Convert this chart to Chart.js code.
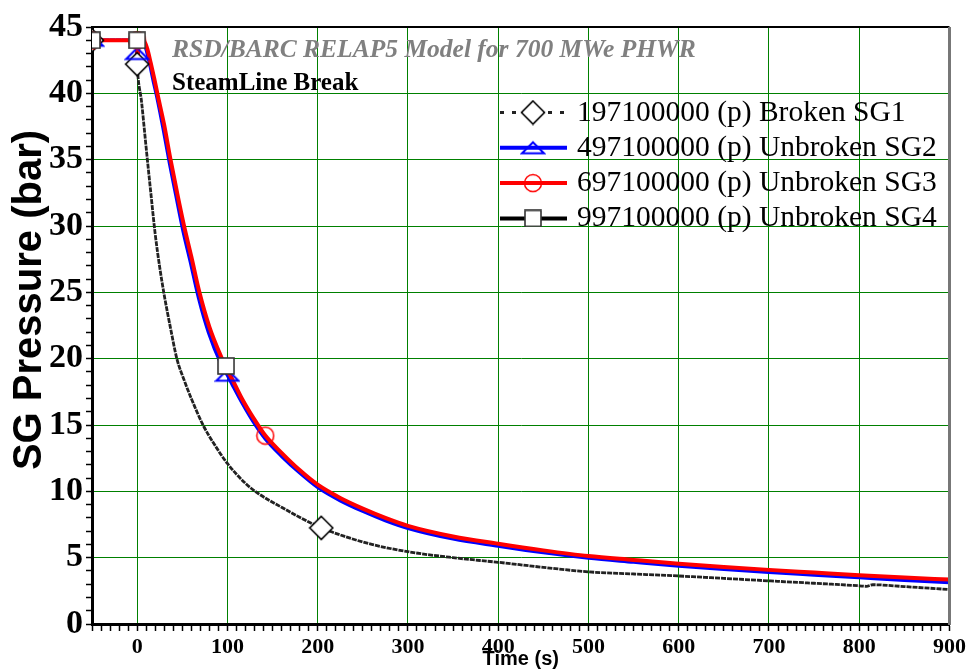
<!DOCTYPE html>
<html lang="en">
<head>
<meta charset="UTF-8">
<title>SG Pressure - SteamLine Break</title>
<script src="https://cdn.jsdelivr.net/npm/chart.js"></script>
<style>
  html, body { margin: 0; padding: 0; background: #fff; }
  #wrap { width: 969px; height: 671px; }
</style>
</head>
<body>
<div id="wrap"><canvas id="sgChart" width="969" height="671"></canvas></div>
<script>
// series: time (s) and SG pressure (bar)
const sg1Time = [-50, -1, 0, 5, 10, 15, 20, 25, 30, 37, 44, 52, 60, 73, 85, 100, 120, 135, 160, 180, 204, 230, 260, 300, 350, 400, 450, 500, 550, 600, 650, 700, 750, 800, 808, 815, 850, 900];
const sg1Pres = [44, 44, 42.2, 39.3, 35.9, 32.6, 29.4, 26.9, 24.8, 22.3, 20.0, 18.4, 17.0, 15.0, 13.6, 12.1, 10.6, 9.8, 8.8, 8.05, 7.25, 6.6, 6.0, 5.45, 5.0, 4.65, 4.27, 3.93, 3.77, 3.62, 3.44, 3.25, 3.07, 2.88, 2.84, 2.96, 2.82, 2.6];

const sg2Time = [-50, -1, 0, 0.8, 2, 6, 10, 14, 18, 22, 29, 36, 43, 51, 59, 68, 79, 93, 100, 105, 116, 130, 142, 160, 180, 200, 225, 250, 275, 300, 350, 400, 450, 500, 550, 600, 650, 700, 750, 800, 850, 900];
const sg2Pres = [44, 44, 43.0, 42.3, 44, 44, 43.3, 42.2, 40.9, 39.7, 37.3, 34.7, 32.3, 29.6, 27.3, 24.6, 22.0, 19.6, 18.75, 18.1, 16.7, 15.1, 13.95, 12.65, 11.4, 10.3, 9.3, 8.5, 7.8, 7.22, 6.42, 5.88, 5.38, 4.97, 4.67, 4.38, 4.12, 3.9, 3.7, 3.5, 3.3, 3.12];

const sg3Time = [-50, -1, 0, 0.5, 1.5, 7, 11, 15, 19, 23, 30, 37, 44, 52, 60, 69, 80, 94, 98.5, 105, 116, 130, 142, 160, 180, 200, 225, 250, 275, 300, 350, 400, 450, 500, 550, 600, 650, 700, 750, 800, 850, 900];
const sg3Pres = [44, 44, 44, 42.3, 44, 44, 43.4, 42.3, 41.1, 39.8, 37.6, 35.0, 32.6, 30.0, 27.7, 25.0, 22.4, 20.0, 19.35, 18.5, 17.0, 15.4, 14.2, 12.9, 11.6, 10.5, 9.5, 8.7, 8.0, 7.4, 6.6, 6.05, 5.55, 5.12, 4.83, 4.55, 4.3, 4.08, 3.88, 3.68, 3.5, 3.35];

const sg4Time = [-50, 0, 7, 11, 15, 19, 23, 30, 37, 44, 52, 60, 69, 80, 94, 98.5, 105, 116, 130, 142, 160, 180, 200, 225, 250, 275, 300, 350, 400, 450, 500, 550, 600, 650, 700, 750, 800, 850, 900];
const sg4Pres = [44, 44, 44, 43.4, 42.3, 41.1, 39.8, 37.6, 35.0, 32.6, 30.0, 27.7, 25.0, 22.4, 20.0, 19.45, 18.5, 17.0, 15.4, 14.2, 12.9, 11.6, 10.5, 9.5, 8.7, 8.0, 7.4, 6.6, 6.05, 5.55, 5.12, 4.83, 4.55, 4.3, 4.08, 3.88, 3.68, 3.5, 3.35];

// times where the plot puts a symbol on each curve
const sg1Marks = [-50, 0, 204];
const sg2Marks = [-50, 0, 100];
const sg3Marks = [-50, 0, 142];
const sg4Marks = [-50, 0, 98.5];

const seriesLabels = [
    '197100000 (p) Broken SG1',
    '497100000 (p) Unbroken SG2',
    '697100000 (p) Unbroken SG3',
    '997100000 (p) Unbroken SG4'
];

const xMin = -50, xMax = 900, xStep = 10, xLabelEvery = 100;
const yMin = 0, yMax = 45, yStep = 1, yLabelEvery = 5;

const GRID_GREEN = 'rgb(0,128,0)';

function toPoints(t, p) {
    return t.map((x, i) => ({ x: x, y: p[i] }));
}

function markerCanvas(kind) {
    const cv = document.createElement('canvas');
    const g = cv.getContext('2d');
    if (kind === 'diamond') {
        cv.width = 26; cv.height = 26;
        g.beginPath();
        g.moveTo(13, 1.5); g.lineTo(24.5, 13); g.lineTo(13, 24.5); g.lineTo(1.5, 13); g.closePath();
        g.fillStyle = '#fff'; g.fill();
        g.lineWidth = 1.6; g.strokeStyle = '#000'; g.stroke();
    } else if (kind === 'triangle') {
        cv.width = 26; cv.height = 16;
        g.beginPath();
        g.moveTo(13, 2.5); g.lineTo(24, 13.5); g.lineTo(2, 13.5); g.closePath();
        g.lineWidth = 2; g.strokeStyle = '#0000ff'; g.stroke();
    } else if (kind === 'circle') {
        cv.width = 20; cv.height = 20;
        g.beginPath();
        g.arc(10, 10, 8.5, 0, Math.PI * 2);
        g.lineWidth = 1.5; g.strokeStyle = '#ff0000'; g.stroke();
    } else {
        cv.width = 18; cv.height = 18;
        g.fillStyle = '#fff'; g.fillRect(1, 1, 16, 16);
        g.lineWidth = 1.6; g.strokeStyle = '#333'; g.strokeRect(1, 1, 16, 16);
    }
    return cv;
}

const series = [
    { label: seriesLabels[0], pts: toPoints(sg1Time, sg1Pres), marks: sg1Marks, color: '#222', width: 2.8, dash: [5, 1], legendDash: [4, 8], marker: markerCanvas('diamond'), order: 3 },
    { label: seriesLabels[1], pts: toPoints(sg2Time, sg2Pres), marks: sg2Marks, color: '#0000ff', width: 3.5, dash: [], legendDash: [], marker: markerCanvas('triangle'), order: 2 },
    { label: seriesLabels[2], pts: toPoints(sg3Time, sg3Pres), marks: sg3Marks, color: '#ff0000', width: 4, dash: [], legendDash: [], marker: markerCanvas('circle'), order: 1 },
    { label: seriesLabels[3], pts: toPoints(sg4Time, sg4Pres), marks: sg4Marks, color: '#000', width: 2, dash: [], legendDash: [], marker: markerCanvas('square'), order: 4 }
];

const datasets = [];
series.forEach(s => {
    datasets.push({
        label: s.label,
        data: s.pts,
        borderColor: s.color,
        borderWidth: s.width,
        borderDash: s.dash,
        pointRadius: 0,
        cubicInterpolationMode: 'monotone',
        fill: false,
        order: s.order
    });
});
// symbols go on top of every line
series.forEach((s, i) => {
    datasets.push({
        label: s.label + ' symbols',
        data: s.pts.filter(p => s.marks.includes(p.x)),
        showLine: false,
        borderWidth: 0,
        pointRadius: 6,
        pointStyle: s.marker,
        order: -10 + (3 - i)
    });
});

const frame = {
    id: 'frame',
    afterDraw(chart) {
        const c = chart.ctx;
        const { left, right, top, bottom } = chart.chartArea;
        c.save();
        c.strokeStyle = '#000';
        c.lineWidth = 2;
        c.beginPath(); c.moveTo(left, top); c.lineTo(right, top); c.stroke();
        c.strokeStyle = '#777';
        c.lineWidth = 3;
        c.beginPath(); c.moveTo(right, top); c.lineTo(right, bottom + 1); c.stroke();
        // y axis title, sits a bit above centre like the original
        c.translate(30, 300);
        c.rotate(-Math.PI / 2);
        c.fillStyle = '#000';
        c.font = 'bold 40px "Liberation Sans", Arial, sans-serif';
        c.textAlign = 'center';
        c.textBaseline = 'middle';
        c.fillText('SG Pressure (bar)', 0, 0);
        c.restore();
    }
};

const notes = {
    id: 'notes',
    afterDatasetsDraw(chart) {
        const c = chart.ctx;
        c.save();
        c.textAlign = 'left';
        c.textBaseline = 'alphabetic';
        c.fillStyle = '#808080';
        c.font = 'italic bold 25.5px "Liberation Serif", serif';
        c.fillText('RSD/BARC RELAP5 Model for 700 MWe PHWR', 172, 57);
        c.fillStyle = '#000';
        c.font = 'bold 25px "Liberation Serif", serif';
        c.fillText('SteamLine Break', 172, 90);

        // legend: line sample with its symbol, then the label
        c.font = '29.5px "Liberation Serif", serif';
        series.forEach((s, i) => {
            const y = 112.5 + i * 35.3;
            c.strokeStyle = s.color;
            c.lineWidth = i === 0 ? 3 : 4;
            c.setLineDash(s.legendDash);
            c.beginPath(); c.moveTo(500, y); c.lineTo(567, y); c.stroke();
            c.setLineDash([]);
            c.drawImage(s.marker, 533 - s.marker.width / 2, y - s.marker.height / 2);
            c.fillStyle = '#000';
            c.fillText(s.label, 577, y + 8);
        });
        c.restore();
    }
};

const ctx = document.getElementById('sgChart').getContext('2d');
const sgChart = new Chart(ctx, {
    type: 'line',
    data: { datasets: datasets },
    options: {
        responsive: false,
        animation: false,
        devicePixelRatio: 1,
        layout: { padding: { top: 27, right: 18, left: 0, bottom: 0 } },
        plugins: { legend: { display: false }, tooltip: { enabled: false } },
        scales: {
            x: {
                type: 'linear',
                min: xMin,
                max: xMax,
                afterFit(scale) { scale.height = 47; },
                ticks: {
                    stepSize: xStep,
                    autoSkip: false,
                    maxRotation: 0,
                    padding: 3,
                    color: '#000',
                    font: { family: '"Liberation Serif", serif', size: 22, weight: 'bold' },
                    callback: v => (v % xLabelEvery === 0 ? v : '')
                },
                grid: {
                    color: c => (c.tick && c.tick.value % xLabelEvery === 0 && c.tick.value > xMin && c.tick.value < xMax) ? GRID_GREEN : 'rgba(0,0,0,0)',
                    lineWidth: 1,
                    tickColor: '#000',
                    tickLength: 7,
                    tickWidth: 1.5
                },
                border: { color: '#000', width: 3 },
                title: {
                    display: true,
                    text: 'Time (s)',
                    color: '#000',
                    padding: { top: 0, bottom: 0 },
                    font: { family: '"Liberation Sans", Arial, sans-serif', size: 20, weight: 'bold' }
                }
            },
            y: {
                min: yMin,
                max: yMax,
                afterFit(scale) { scale.width = 92; },
                ticks: {
                    stepSize: yStep,
                    autoSkip: false,
                    padding: 3,
                    color: '#000',
                    font: { family: '"Liberation Serif", serif', size: 34, weight: 'bold' },
                    callback: v => (v % yLabelEvery === 0 ? v : '')
                },
                grid: {
                    color: c => (c.tick && c.tick.value % yLabelEvery === 0 && c.tick.value > yMin && c.tick.value < yMax) ? GRID_GREEN : 'rgba(0,0,0,0)',
                    lineWidth: 1,
                    tickColor: '#000',
                    tickLength: 6,
                    tickWidth: 1.5
                },
                border: { color: '#000', width: 3 }
            }
        }
    },
    plugins: [frame, notes]
});
</script>
</body>
</html>
